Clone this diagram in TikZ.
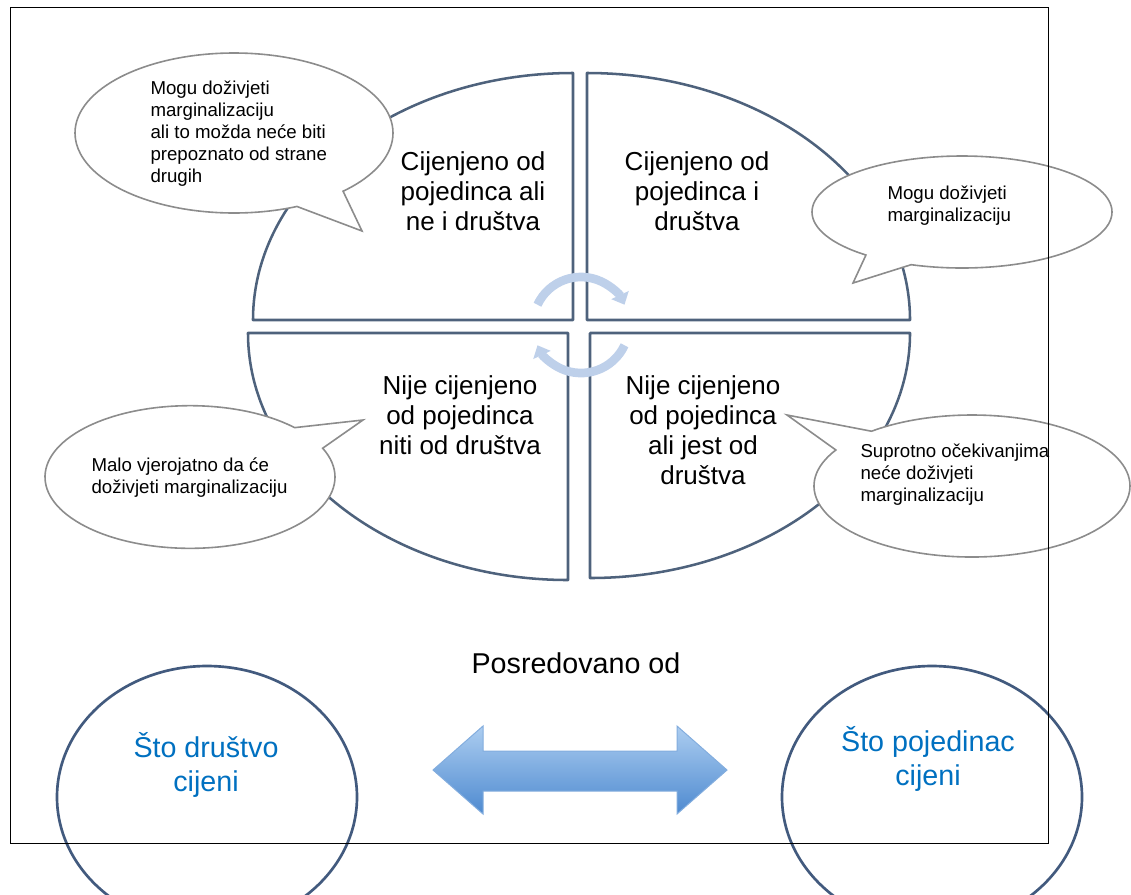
\documentclass[tikz,border=0pt]{standalone}
\usepackage{fontspec}
\setmainfont{Liberation Sans}
\usetikzlibrary{shapes.callouts,shapes.geometric,arrows.meta}

\definecolor{quadLine}{RGB}{78,98,124}
\definecolor{bubbleLine}{RGB}{140,140,140}
\definecolor{ringLine}{RGB}{66,90,126}
\definecolor{valueBlue}{RGB}{0,112,192}
\definecolor{cycleBlue}{RGB}{190,208,234}
\definecolor{arrowTop}{RGB}{172,205,240}
\definecolor{arrowBot}{RGB}{78,138,208}

\tikzset{every picture/.style={line width=0.75pt}}
\tikzset{
  quadrant/.style={draw=quadLine, line width=1.9pt, line join=round},
  quadtxt/.style={align=center, inner sep=0pt, font=\fontsize{19.5pt}{22.5pt}\selectfont},
  bubble/.style={ellipse callout, draw=bubbleLine, fill=white, line width=1.2pt, inner sep=0pt, callout pointer arc=20},
  bubbletxt/.style={align=left, anchor=west, inner sep=0pt, font=\fontsize{14pt}{16.5pt}\selectfont},
  valuering/.style={ellipse, draw=ringLine, line width=2pt, inner sep=0pt, minimum width=225pt, minimum height=196.5pt},
  valuetxt/.style={align=center, inner sep=0pt, text=valueBlue, font=\fontsize{21.5pt}{26pt}\selectfont},
  cyclearc/.style={draw=cycleBlue, line width=6.5pt, -{Triangle[width=14pt,length=8pt]}},
}

\begin{document}
\begin{tikzpicture}[x=0.75pt,y=0.75pt,yscale=-1,xscale=1]
	\useasboundingbox (0,0) rectangle (1131,894);

	%Shape: Quarter Ellipse [top left]
	\draw[quadrant] (573,73) -- (573,320) -- (253,320) .. controls (253,183.6) and (396.3,73) .. (573,73) -- cycle ;
	%Shape: Quarter Ellipse [top right]
	\draw[quadrant] (587,73) -- (587,320) -- (910,320) .. controls (910,183.6) and (765.4,73) .. (587,73) -- cycle ;
	%Shape: Quarter Ellipse [bottom left]
	\draw[quadrant] (568,333) -- (568,580) .. controls (391.3,580) and (248,469.4) .. (248,333) -- cycle ;
	%Shape: Quarter Ellipse [bottom right]
	\draw[quadrant] (590,333) -- (910,333) .. controls (910,468.3) and (766.7,578) .. (590,578) -- cycle ;

	%Shape: Arc [cycle]
	\draw[cyclearc] (581,325) ++(205:48) arc[start angle=205, end angle=335, radius=48] ;
	\draw[cyclearc] (581,325) ++(25:48) arc[start angle=25, end angle=155, radius=48] ;

	% Text Node
	\draw (473,191) node[quadtxt] (valIndNotSoc) {Cijenjeno od\\pojedinca ali\\ne i društva};
	% Text Node
	\draw (697,191) node[quadtxt] (valIndSoc) {Cijenjeno od\\pojedinca i\\društva};
	% Text Node
	\draw (460,415) node[quadtxt] (notIndNotSoc) {Nije cijenjeno\\od pojedinca\\niti od društva};
	% Text Node
	\draw (703,430) node[quadtxt] (notIndSoc) {Nije cijenjeno\\od pojedinca\\ali jest od\\društva};

	%Shape: Callout [top left]
	\node[bubble, minimum width=238.5pt, minimum height=120pt, callout absolute pointer={(362,231)}] (bubTL) at (234,133) {};
	% Text Node
	\draw (150,134) node[bubbletxt] (noteTL) {Mogu doživjeti\\marginalizaciju\\ali to možda neće biti\\prepoznato od strane\\drugih};

	%Shape: Callout [top right]
	\node[bubble, minimum width=225pt, minimum height=84pt, callout absolute pointer={(853,283)}] (bubTR) at (962,212) {};
	% Text Node
	\draw (887,206) node[bubbletxt] (noteTR) {Mogu doživjeti\\marginalizaciju};

	%Shape: Callout [bottom left]
	\node[bubble, minimum width=217.5pt, minimum height=107pt, callout absolute pointer={(363,420)}] (bubBL) at (190,477) {};
	% Text Node
	\draw (91,478) node[bubbletxt] (noteBL) {Malo vjerojatno da će\\doživjeti marginalizaciju};

	%Shape: Callout [bottom right]
	\node[bubble, minimum width=237pt, minimum height=106.5pt, callout absolute pointer={(787,415)}] (bubBR) at (972,486) {};
	% Text Node
	\draw (860,475) node[bubbletxt] (noteBR) {Suprotno očekivanjima\\neće doživjeti\\marginalizaciju};

	% Text Node
	\draw (576,663) node[inner sep=0pt, font=\fontsize{21.5pt}{26pt}\selectfont] (mediated) {Posredovano od};

	%Shape: Ellipse [society]
	\node[valuering] (ringSoc) at (207,797) {};
	% Text Node
	\draw (206,765) node[valuetxt] (txtSoc) {Što društvo\\cijeni};
	%Shape: Ellipse [individual]
	\node[valuering] (ringInd) at (932,797) {};
	% Text Node
	\draw (928,759) node[valuetxt] (txtInd) {Što pojedinac\\cijeni};

	%Shape: Double Arrow
	\draw[draw=arrowBot!70, top color=arrowTop, bottom color=arrowBot] (433,770) -- (483,726) -- (483,751) -- (677,751) -- (677,726) -- (727,770) -- (677,814) -- (677,791) -- (483,791) -- (483,814) -- cycle ;

	%Shape: Rectangle [frame]
	\draw (10,7) rectangle (1048,843) ;

\end{tikzpicture}
\end{document}
